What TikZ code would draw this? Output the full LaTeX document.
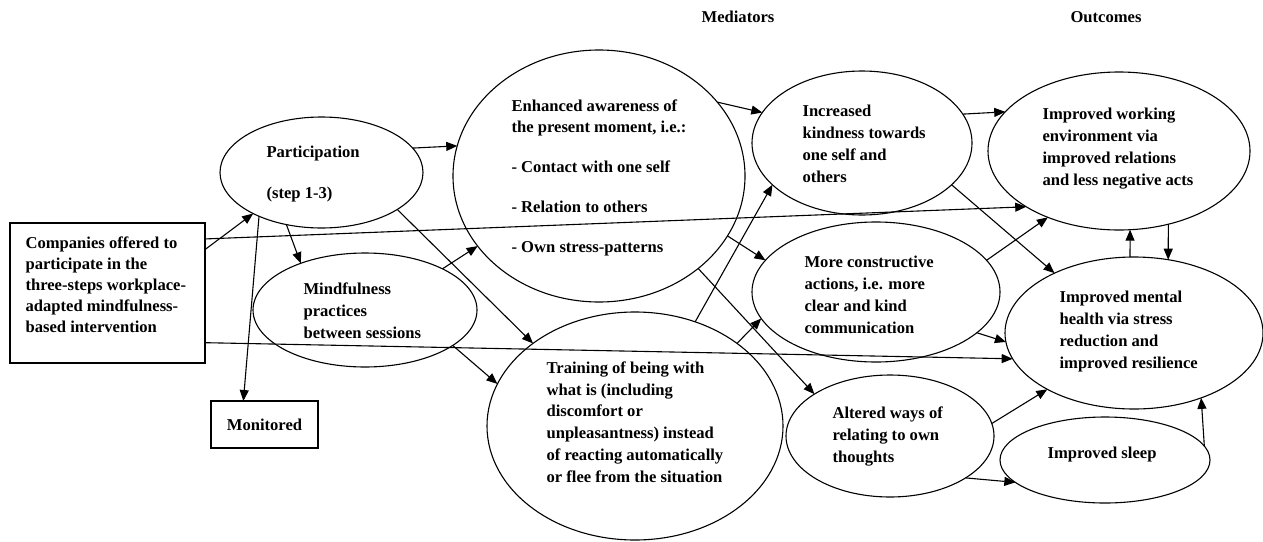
\documentclass[tikz,border=0pt]{standalone}
\usepackage{fontspec}
\setmainfont{Liberation Serif}
\usetikzlibrary{shapes.geometric,arrows.meta}

\begin{document}
\begin{tikzpicture}[
  x=1pt, y=-1pt,
  line width=1.1pt,
  oval/.style={draw, ellipse, inner sep=0pt, outer sep=0pt},
  box/.style={draw, rectangle, inner sep=0pt, outer sep=0pt},
  % multi-line labels: the base anchor sits on the last line's baseline
  txt/.style={anchor=base west, align=left, inner sep=0pt,
              font=\bfseries\fontsize{16.6}{21.7}\selectfont},
  head/.style={anchor=base, inner sep=0pt, font=\bfseries\fontsize{16.6}{21.7}\selectfont},
  link/.style={-{Triangle[length=11pt,width=9pt]}},
]
\useasboundingbox (0,0) rectangle (1263,541);

% column headings
\node[head] (hmed) at (738,22) {Mediators};
\node[head] (hout) at (1106,22) {Outcomes};

% boxes
\node[box, minimum width=195pt, minimum height=140pt] (comp) at (107.5,293) {};
\node[box, minimum width=107pt, minimum height=47pt,
      font=\bfseries\fontsize{16.6}{21.7}\selectfont] (mon) at (264.5,424.5) {Monitored};

% ellipses
\node[oval, minimum width=203pt, minimum height=111pt] (part)   at (321.5,172.5) {};
\node[oval, minimum width=224pt, minimum height=114pt] (mind)   at (365,310) {};
\node[oval, minimum width=292pt, minimum height=252pt] (aware)  at (599,176) {};
\node[oval, minimum width=296pt, minimum height=228pt] (train)  at (635,426) {};
\node[oval, minimum width=220pt, minimum height=144pt] (kind)   at (862,143) {};
\node[oval, minimum width=248pt, minimum height=140pt] (cons)   at (876,292) {};
\node[oval, minimum width=208pt, minimum height=122pt] (alter)  at (890,436) {};
\node[oval, minimum width=262pt, minimum height=158pt] (work)   at (1119,151) {};
\node[oval, minimum width=258pt, minimum height=152pt] (mental) at (1134,333) {};
\node[oval, minimum width=210pt, minimum height=86pt]  (sleep)  at (1105,460) {};

% texts
\node[txt, font=\bfseries\fontsize{16.6}{21}\selectfont] (tcomp) at (25,332) {Companies offered to\\participate in the\\three-steps workplace-\\adapted mindfulness-\\based intervention};
\node[txt] (tpart) at (266,198) {Participation\\[19pt](step 1-3)};
\node[txt] (tmind) at (303,338) {Mindfulness\\practices\\between sessions};
\node[txt] (taware) at (511,252) {Enhanced awareness of\\the present moment, i.e.:\\[18pt]- Contact with one self\\[18pt]- Relation to others\\[18pt]- Own stress-patterns};
\node[txt] (ttrain) at (546,482) {Training of being with\\what is (including\\discomfort or\\unpleasantness) instead\\of reacting automatically\\or flee from the situation};
\node[txt] (tkind) at (802,182) {Increased\\kindness towards\\one self and\\others};
\node[txt] (tcons) at (804,333) {More constructive\\actions, i.e. more\\clear and kind\\communication};
\node[txt] (talter) at (832,462) {Altered ways of\\relating to own\\thoughts};
\node[txt] (twork) at (1042,185) {Improved working\\environment via\\improved relations\\and less negative acts};
\node[txt] (tmental) at (1059,368) {Improved mental\\health via stress\\reduction and\\improved resilience};
\node[txt] (tsleep) at (1047,458) {Improved sleep};

% connectors
\draw[link] (comp.24.8)   -- (part.211);
\draw[link] (comp.29.9)   -- (work.211.7);
\draw[link] (comp.-27.1)  -- (mental.192.3);
\draw[link] (part.15.5)   -- (aware.168.8);
\draw[link] (part.215.7)  -- (mon.132.5);
\draw[link] (part.236.5)  -- (mind.144.1);
\draw[link] (part.-26.1)  -- (train.141.3);
\draw[link] (mind.28.3)   -- (aware.210.5);
\draw[link] (mind.-22.5)  -- (train.163);
\draw[link] (aware.32.8)  -- (kind.163.3);
\draw[link] (aware.-25.5) -- (cons.164.4);
\draw[link] (aware.-43.5) -- (alter.151.8);
\draw[link] (train.60.9)  -- (kind.205.6);
\draw[link] (train.39.1)  -- (cons.193.1);
\draw[link] (kind.16.5)   -- (work.161.4);
\draw[link] (kind.-25.8)  -- (mental.143.1);
\draw[link] (cons.16.9)   -- (work.223.8);
\draw[link] (cons.-22.1)  -- (mental.184);
\draw[link] (alter.7.4)   -- (mental.213);
\draw[link] (alter.-29.2) -- (sleep.194);
\draw[link] (sleep.8.4)   -- (mental.-44.6);
\draw[link] (mental.93.8) -- (work.-82.8);
\draw[link] (work.-56.1)  -- (mental.65.3);
\end{tikzpicture}
\end{document}
